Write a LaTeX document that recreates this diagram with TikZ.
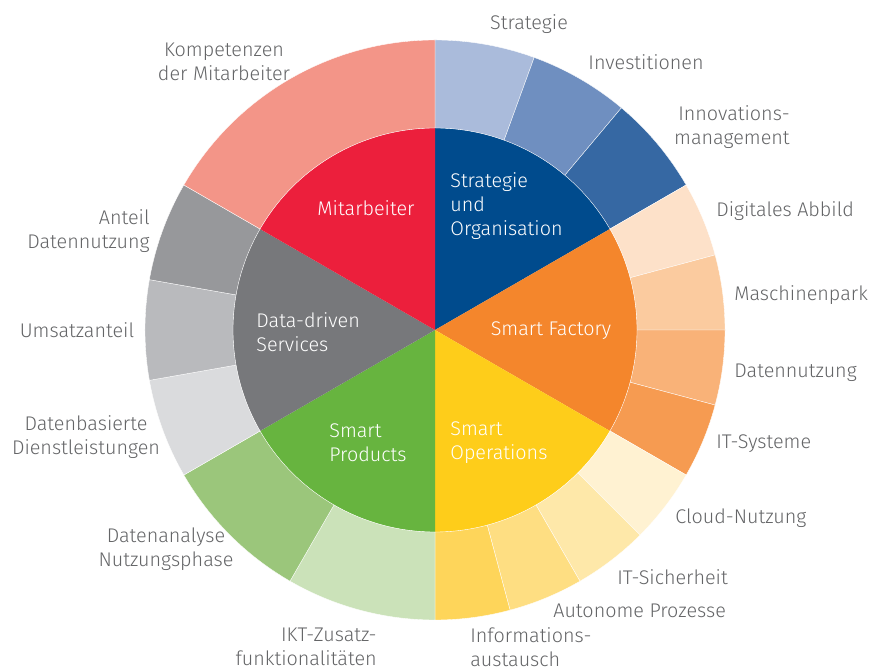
\documentclass[tikz,border=0pt]{standalone}
\usepackage{fontspec}
\setmainfont{Fira Sans Light}
\usepackage{tikz}
\usetikzlibrary{%
  positioning,%
  calc,
}

\definecolor{labelgrey}{HTML}{646567}
% inner ring
\definecolor{cMitarbeiter}{HTML}{EC1F3C}
\definecolor{cStrategie}{HTML}{004B8D}
\definecolor{cFactory}{HTML}{F4862C}
\definecolor{cOperations}{HTML}{FECD1A}
\definecolor{cProducts}{HTML}{67B43F}
\definecolor{cServices}{HTML}{77787B}
% outer ring
\definecolor{cKompetenzen}{HTML}{F39588}
\definecolor{cStratA}{HTML}{AABBDB}
\definecolor{cStratB}{HTML}{6F8FC0}
\definecolor{cStratC}{HTML}{3668A3}
\definecolor{cFactA}{HTML}{FDE1C9}
\definecolor{cFactB}{HTML}{FBCB9F}
\definecolor{cFactC}{HTML}{F9B278}
\definecolor{cFactD}{HTML}{F69B51}
\definecolor{cOperA}{HTML}{FFF2D2}
\definecolor{cOperB}{HTML}{FEE8A9}
\definecolor{cOperC}{HTML}{FEDE82}
\definecolor{cOperD}{HTML}{FED55A}
\definecolor{cProdA}{HTML}{CBE2B9}
\definecolor{cProdB}{HTML}{9BC67B}
\definecolor{cServA}{HTML}{DADBDD}
\definecolor{cServB}{HTML}{B9BABD}
\definecolor{cServC}{HTML}{97989B}

\tikzset{
  outerlabel/.style={text=labelgrey, inner sep=0pt, font=\fontsize{11.25}{13.7}\selectfont},
  innerlabel/.style={text=white, inner sep=0pt, font=\fontsize{11.25}{13.7}\selectfont},
  ringpart/.style={draw=white, line width=0.2pt},
}

\begin{document}
\begin{tikzpicture}[x=0.02cm, y=0.02cm]
        \useasboundingbox (-435,-341) rectangle (446,330);
        % inner sectors
        \fill[cStrategie]  (0,0) -- (90:202)  arc[start angle=90,  end angle=30,  radius=202] -- cycle;
        \fill[cFactory]    (0,0) -- (30:202)  arc[start angle=30,  end angle=-30, radius=202] -- cycle;
        \fill[cOperations] (0,0) -- (-30:202) arc[start angle=-30, end angle=-90, radius=202] -- cycle;
        \fill[cProducts]   (0,0) -- (-90:202) arc[start angle=-90, end angle=-150,radius=202] -- cycle;
        \fill[cServices]   (0,0) -- (210:202) arc[start angle=210, end angle=150, radius=202] -- cycle;
        \fill[cMitarbeiter](0,0) -- (150:202) arc[start angle=150, end angle=90,  radius=202] -- cycle;
        % outer ring
        \fill[cStratA, ringpart] (90:202) arc[start angle=90, end angle=70, radius=202] -- (70:290) arc[start angle=70, end angle=90, radius=290] -- cycle;
        \fill[cStratB, ringpart] (70:202) arc[start angle=70, end angle=50, radius=202] -- (50:290) arc[start angle=50, end angle=70, radius=290] -- cycle;
        \fill[cStratC, ringpart] (50:202) arc[start angle=50, end angle=30, radius=202] -- (30:290) arc[start angle=30, end angle=50, radius=290] -- cycle;
        \fill[cFactA, ringpart] (30:202) arc[start angle=30, end angle=15, radius=202] -- (15:290) arc[start angle=15, end angle=30, radius=290] -- cycle;
        \fill[cFactB, ringpart] (15:202) arc[start angle=15, end angle=0, radius=202] -- (0:290) arc[start angle=0, end angle=15, radius=290] -- cycle;
        \fill[cFactC, ringpart] (0:202) arc[start angle=0, end angle=-15, radius=202] -- (-15:290) arc[start angle=-15, end angle=0, radius=290] -- cycle;
        \fill[cFactD, ringpart] (-15:202) arc[start angle=-15, end angle=-30, radius=202] -- (-30:290) arc[start angle=-30, end angle=-15, radius=290] -- cycle;
        \fill[cOperA, ringpart] (-30:202) arc[start angle=-30, end angle=-45, radius=202] -- (-45:290) arc[start angle=-45, end angle=-30, radius=290] -- cycle;
        \fill[cOperB, ringpart] (-45:202) arc[start angle=-45, end angle=-60, radius=202] -- (-60:290) arc[start angle=-60, end angle=-45, radius=290] -- cycle;
        \fill[cOperC, ringpart] (-60:202) arc[start angle=-60, end angle=-75, radius=202] -- (-75:290) arc[start angle=-75, end angle=-60, radius=290] -- cycle;
        \fill[cOperD, ringpart] (-75:202) arc[start angle=-75, end angle=-90, radius=202] -- (-90:290) arc[start angle=-90, end angle=-75, radius=290] -- cycle;
        \fill[cProdA, ringpart] (-90:202) arc[start angle=-90, end angle=-120, radius=202] -- (-120:290) arc[start angle=-120, end angle=-90, radius=290] -- cycle;
        \fill[cProdB, ringpart] (-120:202) arc[start angle=-120, end angle=-150, radius=202] -- (-150:290) arc[start angle=-150, end angle=-120, radius=290] -- cycle;
        \fill[cServA, ringpart] (210:202) arc[start angle=210, end angle=190, radius=202] -- (190:290) arc[start angle=190, end angle=210, radius=290] -- cycle;
        \fill[cServB, ringpart] (190:202) arc[start angle=190, end angle=170, radius=202] -- (170:290) arc[start angle=170, end angle=190, radius=290] -- cycle;
        \fill[cServC, ringpart] (170:202) arc[start angle=170, end angle=150, radius=202] -- (150:290) arc[start angle=150, end angle=170, radius=290] -- cycle;
        \fill[cKompetenzen, ringpart] (150:202) arc[start angle=150, end angle=90, radius=202] -- (90:290) arc[start angle=90, end angle=150, radius=290] -- cycle;
        % inner labels
        \node[innerlabel] (mitarbeiter) at (-69,122) {Mitarbeiter};
        \node[innerlabel, anchor=west, align=left] (strategieorg) at (15,124) {Strategie\\und\\Organisation};
        \node[innerlabel] (factory) at (116,-1) {Smart Factory};
        \node[innerlabel, anchor=west, align=left] (operations) at (15,-113) {Smart\\Operations};
        \node[innerlabel, anchor=west, align=left] (products) at (-106,-113) {Smart\\Products};
        \node[innerlabel, anchor=west, align=left] (services) at (-179,-2) {Data-driven\\Services};
        % outer labels
        \node[outerlabel] (strategie) at (94,306) {Strategie};
        \node[outerlabel] (investitionen) at (211,268) {Investitionen};
        \node[outerlabel, anchor=east, align=right] (innovation) at (355,203) {Innovations-\\management};
        \node[outerlabel, anchor=west] (abbild) at (281,119) {Digitales Abbild};
        \node[outerlabel, anchor=west] (maschinen) at (299,35) {Maschinenpark};
        \node[outerlabel, anchor=west] (datennutzung) at (299,-43) {Datennutzung};
        \node[outerlabel, anchor=west] (itsysteme) at (281,-114) {IT-Systeme};
        \node[outerlabel, anchor=west] (cloud) at (240,-188) {Cloud-Nutzung};
        \node[outerlabel, anchor=west] (sicherheit) at (182,-247) {IT-Sicherheit};
        \node[outerlabel, anchor=west] (autonom) at (118,-281) {Autonome Prozesse};
        \node[outerlabel, anchor=west, align=left] (austausch) at (35,-317) {Informations-\\austausch};
        \node[outerlabel, anchor=east, align=right] (ikt) at (-58,-317) {IKT-Zusatz-\\funktionalitäten};
        \node[outerlabel, align=center] (datenanalyse) at (-269,-219) {Datenanalyse\\Nutzungsphase};
        \node[outerlabel, align=center] (dienstleistungen) at (-349,-107) {Datenbasierte\\Dienstleistungen};
        \node[outerlabel] (umsatz) at (-358,0) {Umsatzanteil};
        \node[outerlabel, anchor=east, align=right] (anteil) at (-285,99) {Anteil\\Datennutzung};
        \node[outerlabel, align=center] (kompetenzen) at (-211,268) {Kompetenzen\\der Mitarbeiter};
\end{tikzpicture}
\end{document}
